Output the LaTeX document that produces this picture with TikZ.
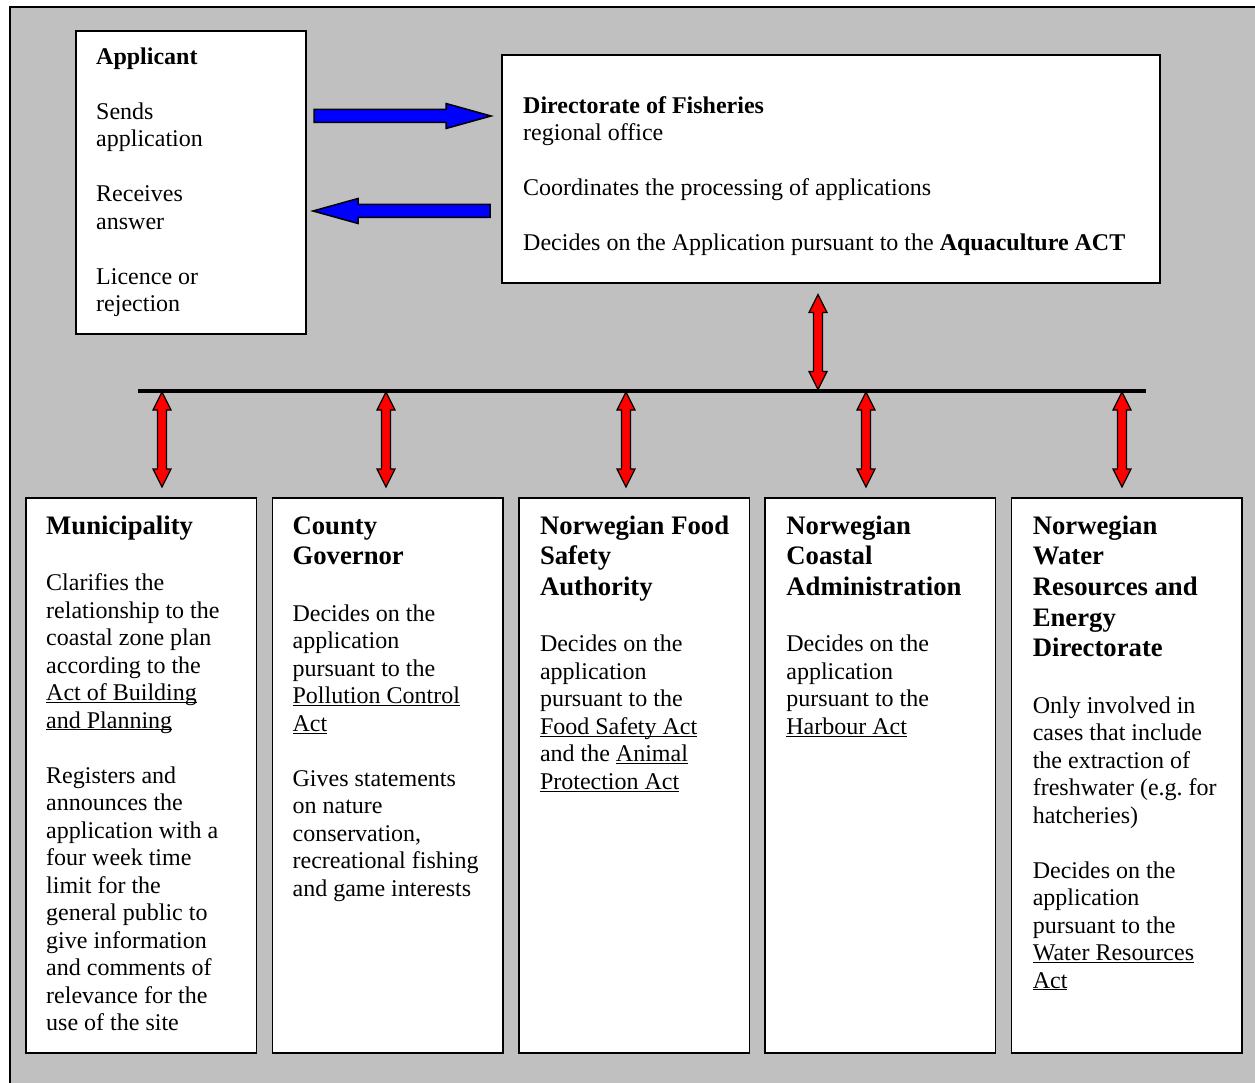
\documentclass[tikz,border=0pt]{standalone}
\usepackage{fontspec}
\setmainfont{Liberation Serif}
\usetikzlibrary{positioning}
\setlength{\parindent}{0pt}
\frenchspacing

\definecolor{panelgray}{RGB}{192,192,192}
\newcommand{\bodysize}{\fontsize{24}{27.5}\selectfont}
\newcommand{\headsize}{\fontsize{26.7}{30.6}\selectfont\bfseries}
\newcommand{\firstline}{\spaceskip=0pt\xspaceskip=0pt\strut}
\newcommand{\actname}[1]{\underline{\smash{#1}}}

\tikzset{
  box/.style={draw, line width=1.5pt, fill=white, inner sep=0pt, outer sep=0pt, anchor=north west},
  lowbox/.style={box, minimum width=230.5pt, minimum height=555pt},
  headtext/.style={inner sep=0pt, anchor=north west, text width=225pt, font=\headsize},
  bodytext/.style={inner sep=0pt, anchor=north west, text width=225pt, font=\bodysize},
  sendarrow/.pic={
    \filldraw[fill=blue, line width=1.5pt]
      (0,-6.5) -- (132,-6.5) -- (132,-12.5) -- (177,0) -- (132,12.5) -- (132,6.5) -- (0,6.5) -- cycle;
  },
  bothways/.pic={
    \filldraw[fill=red, line width=1.3pt]
      (0,-47.5) -- (9,-29.5) -- (4.5,-29.5) -- (4.5,29.5) -- (9,29.5) -- (0,47.5)
      -- (-9,29.5) -- (-4.5,29.5) -- (-4.5,-29.5) -- (-9,-29.5) -- cycle;
  }
}

\begin{document}
\begin{tikzpicture}[x=1pt, y=-1pt]
\useasboundingbox (0,0) rectangle (1255,1083);
\filldraw[fill=panelgray, line width=1.5pt] (10,7) rectangle (1275,1100);

% applicant and regional office
\node[box, minimum width=230pt, minimum height=303pt] (applicant) at (76,31) {};
\node[box, minimum width=658pt, minimum height=228pt] (directorate) at (502,55) {};

\node[bodytext] (applicant-text) at ([shift={(20,13.75)}]applicant.north west)
  {\firstline\textbf{Applicant}\\[27.5pt]
   Sends\\application\\[27.5pt]
   Receives\\answer\\[27.5pt]
   Licence or\\rejection};
\node[bodytext, text width=640pt] (directorate-text) at ([shift={(21,38.75)}]directorate.north west)
  {\firstline\textbf{Directorate of Fisheries}\\regional office\\[27.5pt]
   Coordinates the processing of applications\\[27.5pt]
   Decides on the Application pursuant to the \textbf{Aquaculture ACT}};

\pic at (314,116) {sendarrow};
\pic[rotate=180] at (490,211) {sendarrow};

% the bus between the office and the authorities
\coordinate (bus-w) at (138,390.5);
\coordinate (bus-e) at (1146,390.5);
\draw[line width=4pt] (bus-w) -- (bus-e);
\pic at (818,342) {bothways};
\foreach \x in {162,386,626,866,1122}
  \pic at (\x,439.5) {bothways};

% authorities
\node[lowbox] (muni) at (26,498) {};
\node[lowbox, right=15.9pt of muni.north east, anchor=north west] (county) {};
\node[lowbox, right=15.9pt of county.north east, anchor=north west] (food) {};
\node[lowbox, right=15.9pt of food.north east, anchor=north west] (coastal) {};
\node[lowbox, right=15.9pt of coastal.north east, anchor=north west] (water) {};

\node[headtext] (muni-head) at ([shift={(20,14.65)}]muni.north west) {\firstline Municipality\strut};
\node[bodytext, below=27.6pt of muni-head.south west, anchor=north west] (muni-text)
  {\firstline Clarifies the\\relationship to the\\coastal zone plan\\according to the\\
   \actname{Act of Building}\\\actname{and Planning}\\[27.5pt]
   Registers and\\announces the\\application with a\\four week time\\limit for the\\
   general public to\\give information\\and comments of\\relevance for the\\use of the site};

\node[headtext] (county-head) at ([shift={(20,14.65)}]county.north west) {\firstline County\\Governor\strut};
\node[bodytext, below=27.6pt of county-head.south west, anchor=north west] (county-text)
  {\firstline Decides on the\\application\\pursuant to the\\\actname{Pollution Control}\\\actname{Act}\\[27.5pt]
   Gives statements\\on nature\\conservation,\\recreational fishing\\and game interests};

\node[headtext] (food-head) at ([shift={(21,14.65)}]food.north west) {\firstline Norwegian Food\\Safety\\Authority\strut};
\node[bodytext, below=27.6pt of food-head.south west, anchor=north west] (food-text)
  {\firstline Decides on the\\application\\pursuant to the\\\actname{Food Safety Act}\\
   and the \actname{Animal}\\\actname{Protection Act}};

\node[headtext] (coastal-head) at ([shift={(21,14.65)}]coastal.north west) {\firstline Norwegian\\Coastal\\Administration\strut};
\node[bodytext, below=27.6pt of coastal-head.south west, anchor=north west] (coastal-text)
  {\firstline Decides on the\\application\\pursuant to the\\\actname{Harbour Act}};

\node[headtext] (water-head) at ([shift={(21,14.65)}]water.north west) {\firstline Norwegian\\Water\\Resources and\\Energy\\Directorate\strut};
\node[bodytext, below=27.6pt of water-head.south west, anchor=north west] (water-text)
  {\firstline Only involved in\\cases that include\\the extraction of\\freshwater (e.g. for\\hatcheries)\\[27.5pt]
   Decides on the\\application\\pursuant to the\\\actname{Water Resources}\\\actname{Act}};
\end{tikzpicture}
\end{document}
